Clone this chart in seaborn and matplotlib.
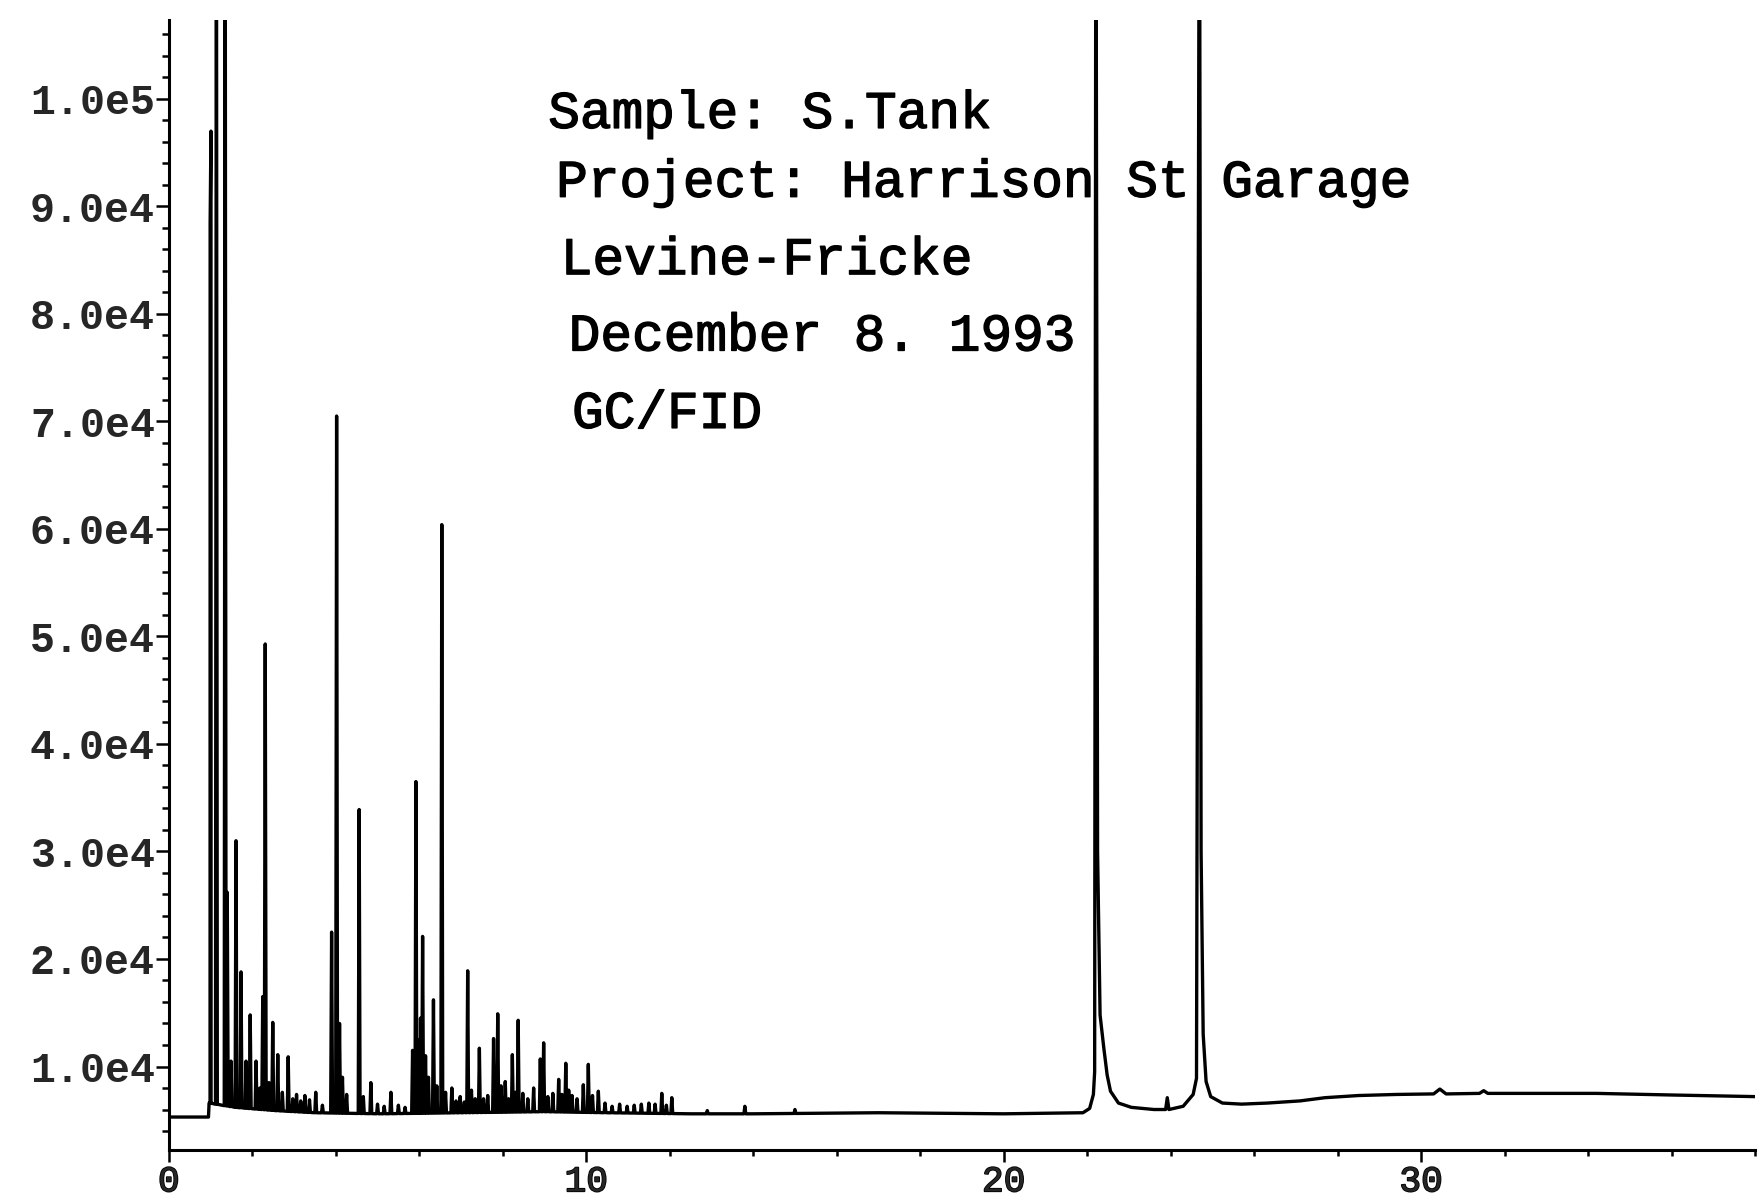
import numpy as np
import pandas as pd
import matplotlib
matplotlib.use("Agg")
import matplotlib.pyplot as plt
import matplotlib.patheffects as pe
from matplotlib.ticker import FixedLocator, MultipleLocator
import seaborn as sns

# baseline level between peaks (retention time in min, detector counts)
base_t = [0.0, 0.95, 0.965, 1.6, 2.55, 3.5, 5.08, 7.0, 9.0, 10.5, 12.5, 14.0, 17.0, 20.0, 21.8]
base_y = [5300, 5300, 6600, 6200, 5900, 5700, 5600, 5700, 5800, 5700, 5600, 5600, 5700, 5600, 5700]

# narrow peaks: retention time and apex height
peak_t = [0.99, 1.01, 1.14, 1.35, 1.40, 1.49, 1.61, 1.73, 1.85, 1.95,
          2.09, 2.18, 2.25, 2.31, 2.40, 2.49, 2.61, 2.72, 2.86, 2.97,
          3.06, 3.16, 3.26, 3.37, 3.52, 3.68, 3.90, 4.02, 4.09, 4.16,
          4.26, 4.56, 4.66, 4.84, 5.00, 5.16, 5.32, 5.50, 5.66, 5.84,
          5.92, 5.99, 6.03, 6.08, 6.15, 6.22, 6.34, 6.42, 6.54, 6.63,
          6.78, 6.88, 6.98, 7.08, 7.16, 7.25, 7.34, 7.44, 7.54, 7.64,
          7.78, 7.88, 7.96, 8.06, 8.14, 8.23, 8.30, 8.37, 8.48, 8.60,
          8.74, 8.90, 8.98, 9.08, 9.20, 9.34, 9.42, 9.51, 9.58, 9.66,
          9.78, 9.93, 10.05, 10.15, 10.29, 10.45, 10.62, 10.80, 10.98, 11.15,
          11.32, 11.50, 11.65, 11.81, 11.92, 12.05, 12.9, 13.8, 15.0]
peak_h = [88500, 97000, 130000, 130000, 26200, 10500, 31000, 18800, 10500, 14800,
          10500, 8000, 16500, 49300, 8500, 14100, 11100, 7600, 10900, 7000,
          7400, 6800, 7300, 6900, 7600, 6400, 22500, 70500, 14000, 9000,
          7400, 33900, 7200, 8500, 6500, 6300, 7600, 6400, 6200, 11500,
          36500, 12500, 14500, 22100, 11000, 9000, 16200, 8200, 60400, 7600,
          8000, 6800, 7200, 6700, 18900, 7800, 7000, 11700, 7000, 7300,
          12600, 14900, 8200, 8600, 7000, 11100, 7600, 14300, 7500, 7000,
          8000, 10700, 12200, 7200, 7500, 8800, 7400, 10300, 7800, 7300,
          7000, 8300, 10200, 7300, 7700, 6600, 6300, 6500, 6300, 6400,
          6500, 6600, 6500, 7500, 6400, 7100, 5900, 6300, 6000]

# the two large late peaks and the drifting baseline after them
big_t = [21.9, 22.06, 22.15, 22.18, 22.21, 22.25, 22.31, 22.40, 22.48, 22.56,
         22.75, 23.06, 23.6, 23.88, 23.92, 23.96, 24.30, 24.54, 24.62, 24.69,
         24.73, 24.78, 24.85, 24.96, 25.24, 25.70, 26.32, 27.1, 27.7, 28.5,
         29.4, 30.3, 30.45, 30.6, 31.4, 31.5, 31.6, 34.2, 36.0, 38.0]
big_y = [5700, 6100, 7400, 9500, 130000, 30000, 14800, 11700, 9200, 7700,
         6600, 6200, 6000, 6000, 7100, 6000, 6300, 7400, 8900, 130000,
         30000, 13000, 8600, 7200, 6600, 6500, 6600, 6800, 7100, 7300,
         7400, 7450, 7900, 7450, 7500, 7750, 7500, 7500, 7350, 7200]

y_ticks = [10000, 20000, 30000, 40000, 50000, 60000, 70000, 80000, 90000, 100000]
y_labels = ['1.0e4', '2.0e4', '3.0e4', '4.0e4', '5.0e4', '6.0e4', '7.0e4', '8.0e4', '9.0e4', '1.0e5']
x_ticks = [0, 10, 20, 30]
x_labels = ['0', '10', '20', '30']

info = ['Sample: S.Tank', 'Project: Harrison St Garage', 'Levine-Fricke',
        'December 8. 1993', 'GC/FID']

# build the trace: each narrow peak sits on the local baseline
half = 0.022
feet = np.interp(peak_t, base_t, base_y)
rows = [(t, y) for t, y in zip(base_t, base_y)
        if all(abs(t - p) > half for p in peak_t)]
for t, h, f in zip(peak_t, peak_h, feet):
    rows += [(t - half, f), (t, h), (t + half, f)]
rows += list(zip(big_t, big_y))
trace = pd.DataFrame(rows, columns=['time', 'signal'])
trace = trace.sort_values('time', kind='mergesort').reset_index(drop=True)

sns.set_style('white')
plt.rcParams['font.family'] = ['Liberation Mono', 'DejaVu Sans Mono']

fig = plt.figure(figsize=(17.64, 12.0), dpi=100)
ax = fig.add_axes([0.0957, 0.0419, 0.8992, 0.9411])

sns.lineplot(data=trace, x='time', y='signal', ax=ax, color='black',
             linewidth=2.4, estimator=None, sort=False)

ax.set_xlim(0, 38)
ax.set_ylim(2260, 107300)
ax.set_xlabel('')
ax.set_ylabel('')

ax.xaxis.set_major_locator(FixedLocator(x_ticks))
ax.set_xticklabels(x_labels)
ax.xaxis.set_minor_locator(MultipleLocator(2))
ax.yaxis.set_major_locator(FixedLocator(y_ticks))
ax.set_yticklabels(y_labels)
ax.yaxis.set_minor_locator(MultipleLocator(2000))

for side in ['top', 'right']:
    ax.spines[side].set_visible(False)
for side in ['left', 'bottom']:
    ax.spines[side].set_linewidth(2.2)
    ax.spines[side].set_color('black')

ax.tick_params(which='both', bottom=True, left=True, direction='out',
               color='black', width=1.8)
ax.tick_params(axis='y', which='major', length=9.5, pad=0.5, labelsize=30)
ax.tick_params(axis='y', which='minor', length=5)
ax.tick_params(axis='x', which='major', length=8.5, pad=2, labelsize=26)
ax.tick_params(axis='x', which='minor', length=4.5)
for lab in ax.get_yticklabels():
    lab.set_fontweight('bold')
for lab in ax.get_xticklabels():
    lab.set_path_effects([pe.withStroke(linewidth=1.2, foreground='black')])

# header block written on the chromatogram
info_x = [9.09, 9.28, 9.39, 9.58, 9.66]
info_y = [97300, 90900, 83700, 76600, 69400]
for txt, tx, ty in zip(info, info_x, info_y):
    ax.text(tx, ty, txt, fontsize=38, color='black', va='baseline', ha='left',
            path_effects=[pe.withStroke(linewidth=1.0, foreground='black')])

fig.savefig('out.png', dpi=100)
